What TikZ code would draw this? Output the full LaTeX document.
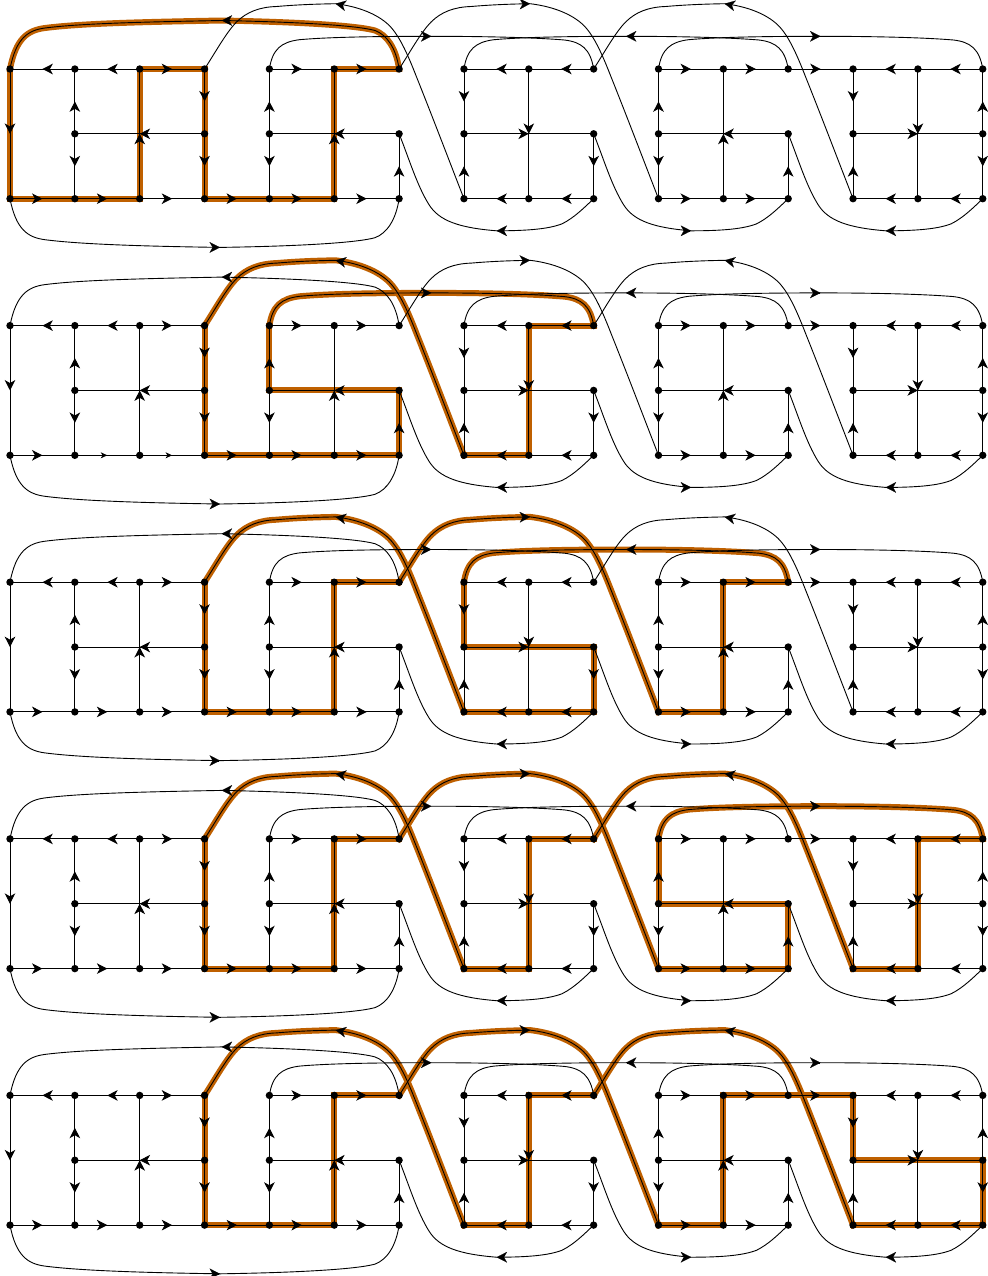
\documentclass[tikz,border=0pt]{standalone}
\usetikzlibrary{arrows.meta,decorations.markings}
\definecolor{hlcol}{HTML}{BF6000}
\pgfdeclarelayer{hllayer}\pgfdeclarelayer{edgelayer}
\pgfsetlayers{hllayer,edgelayer,main}
\tikzset{
  dot/.style={circle,fill=black,inner sep=0pt,minimum size=7.4bp},
  conn/.style={line width=.9bp,black},
  hl/.style={line width=6bp,hlcol,line cap=rect},
  tipst/.style={line width=.1bp,-{Stealth[length=10.4bp,width=10.6bp,inset=3bp]}},
  se/.style={conn,postaction={decorate},decoration={markings,mark=at position .5 with {\arrow{Stealth[length=10.4bp,width=10.6bp,inset=3bp]}}}},
  sesmall/.style={conn,postaction={decorate},decoration={markings,mark=at position .5 with {\arrow{Stealth[length=6.5bp,width=6bp,inset=1.8bp]}}}},
}
% arcs: coordinates relative to the shifted start of the arc
\newcommand\archtop[2]{(#1.center) .. controls (386,-21) and (377,-34) .. (365,-38.5) .. controls (347,-43.5) and (290,-47) .. (211.7,-48.5) coordinate (apex) .. controls (130,-47) and (70,-45.5) .. (35,-41) .. controls (18,-38.8) and (6,-31) .. (#2.center)}
\newcommand\archbot[2]{(#1.center) .. controls (6,31) and (18,38.8) .. (35,41) .. controls (70,45.5) and (130,47.5) .. (210,48.7) coordinate (apex) .. controls (290,47.5) and (347,44) .. (365,39) .. controls (377,34.5) and (386,21) .. (#2.center)}
\newcommand\tallarc[2]{(#1.center) .. controls (11,-17) and (22,-37) .. (32,-47) .. controls (42,-57) and (55,-62) .. (72,-62.5) .. controls (95,-64.5) and (115,-65) .. (131,-65.3) coordinate (apex) .. controls (150,-63) and (169,-57) .. (182,-46) .. controls (194,-36) and (203,-15) .. (212,8) .. controls (228,48) and (244,90) .. (#2.center)}
\newcommand\longarc[2]{(#1.center) .. controls (3,-20) and (12,-27) .. (30,-29.3) .. controls (60,-32) and (110,-32.7) .. (162,-32.7) coordinate (apex) .. controls (215,-32.7) and (265,-31.5) .. (295,-29) .. controls (312,-27) and (321,-20) .. (#2.center)}
\newcommand\lowarc[2]{(#1.center) .. controls (10,25) and (18,52) .. (30,71) .. controls (40,87) and (60,94) .. (97.5,97) coordinate (apex) .. controls (130,97) and (150,95) .. (163,90) .. controls (175,84) and (185,74) .. (#2.center)}
\newcommand\tipat[2]{\draw[tipst] (apex) ++(#1,#2) -- (apex);}
\newcommand\hlarc[3]{\draw[hl,shift={(#2.center)}] #1{#2}{#3};}
\begin{document}
\begin{tikzpicture}[x=1bp,y=-1bp]
\useasboundingbox (0,0) rectangle (988,1276);
\foreach \rw/\Y in {1/0,2/256.6,3/513.2,4/769.9,5/1026.4}{
  \foreach \c in {0,...,15}{
    \pgfmathsetmacro\X{10+64.85*\c}
    \node[dot] (r\rw c\c t) at (\X,69+\Y) {};
    \node[dot] (r\rw c\c b) at (\X,198.7+\Y) {};
  }
  \foreach \c in {1,3,4,6,7,9,10,12,13,15}{
    \pgfmathsetmacro\X{10+64.85*\c}
    \node[dot] (r\rw c\c m) at (\X,133.8+\Y) {};
  }
  \begin{pgfonlayer}{edgelayer}
  \foreach \a/\b in {1t/0t,2t/1t,2t/3t,4t/5t,5t/6t,8t/7t,9t/8t,10t/11t,11t/12t,12t/13t,14t/13t,15t/14t,
    0b/1b,3b/4b,4b/5b,5b/6b,8b/7b,9b/8b,10b/11b,11b/12b,14b/13b,15b/14b,
    0t/0b,1m/1t,1m/1b,2b/2t,3t/3m,3m/3b,4m/4t,4m/4b,5b/5t,6b/6m,7t/7m,7b/7m,8t/8b,9m/9b,
    10m/10t,10m/10b,11b/11t,12b/12m,13t/13m,13b/13m,14t/14b,15m/15t,15m/15b,
    3m/1m,6m/4m,7m/9m,12m/10m,13m/15m}{
    \draw[se] (r\rw c\a.center) -- (r\rw c\b.center);
  }
  \ifnum\rw=2 \def\smallst{sesmall}\else\def\smallst{se}\fi
  \draw[\smallst] (r\rw c1b.center) -- (r\rw c2b.center);
  \draw[\smallst] (r\rw c2b.center) -- (r\rw c3b.center);
  \draw[conn,shift={(r\rw c0t.center)}] \archtop{r\rw c6t}{r\rw c0t}; \tipat{1}{0}
  \draw[conn,shift={(r\rw c0b.center)}] \archbot{r\rw c0b}{r\rw c6b}; \tipat{-1}{0}
  \draw[conn,shift={(r\rw c3t.center)}] \tallarc{r\rw c3t}{r\rw c7b}; \tipat{1}{.2}
  \draw[conn,shift={(r\rw c6t.center)}] \tallarc{r\rw c6t}{r\rw c10b}; \tipat{-1}{.03}
  \draw[conn,shift={(r\rw c9t.center)}] \tallarc{r\rw c9t}{r\rw c13b}; \tipat{1}{.2}
  \draw[conn,shift={(r\rw c4t.center)}] \longarc{r\rw c4t}{r\rw c9t}; \tipat{-1}{0}
  \draw[conn,shift={(r\rw c7t.center)}] \longarc{r\rw c7t}{r\rw c12t}; \tipat{1}{0}
  \draw[conn,shift={(r\rw c10t.center)}] \longarc{r\rw c10t}{r\rw c15t}; \tipat{-1}{0}
  \draw[conn,shift={(r\rw c6m.center)}] \lowarc{r\rw c6m}{r\rw c9b}; \tipat{1}{0}
  \draw[conn,shift={(r\rw c9m.center)}] \lowarc{r\rw c9m}{r\rw c12b}; \tipat{-1}{0}
  \draw[conn,shift={(r\rw c12m.center)}] \lowarc{r\rw c12m}{r\rw c15b}; \tipat{1}{0}
  \end{pgfonlayer}
}
\begin{pgfonlayer}{hllayer}
% row 1
\foreach \a/\b in {0b/1b,1b/2b,2b/2t,2t/3t,3t/3m,3m/3b,3b/4b,4b/5b,5b/5t,5t/6t,0t/0b}{
  \draw[hl] (r1c\a.center) -- (r1c\b.center);}
\draw[hl,shift={(r1c0t.center)}] \archtop{r1c6t}{r1c0t};
% row 2
\foreach \a/\b in {3t/3m,3m/3b,3b/4b,4b/5b,5b/6b,6b/6m,6m/4m,4m/4t,9t/8t,8t/8b,8b/7b}{
  \draw[hl] (r2c\a.center) -- (r2c\b.center);}
\hlarc{\longarc}{r2c4t}{r2c9t}
\hlarc{\tallarc}{r2c3t}{r2c7b}
% row 3
\foreach \a/\b in {3t/3m,3m/3b,3b/4b,4b/5b,5b/5t,5t/6t,10b/11b,11b/11t,11t/12t,7t/7m,7m/9m,9m/9b,9b/8b,8b/7b}{
  \draw[hl] (r3c\a.center) -- (r3c\b.center);}
\hlarc{\tallarc}{r3c6t}{r3c10b}
\hlarc{\longarc}{r3c7t}{r3c12t}
\hlarc{\tallarc}{r3c3t}{r3c7b}
% row 4
\foreach \a/\b in {3t/3m,3m/3b,3b/4b,4b/5b,5b/5t,5t/6t,10b/11b,11b/12b,12b/12m,12m/10m,10m/10t,15t/14t,14t/14b,14b/13b,9t/8t,8t/8b,8b/7b}{
  \draw[hl] (r4c\a.center) -- (r4c\b.center);}
\hlarc{\tallarc}{r4c6t}{r4c10b}
\hlarc{\longarc}{r4c10t}{r4c15t}
\hlarc{\tallarc}{r4c9t}{r4c13b}
\hlarc{\tallarc}{r4c3t}{r4c7b}
% row 5
\foreach \a/\b in {3t/3m,3m/3b,3b/4b,4b/5b,5b/5t,5t/6t,10b/11b,11b/11t,11t/12t,12t/13t,13t/13m,13m/15m,15m/15b,15b/14b,14b/13b,9t/8t,8t/8b,8b/7b}{
  \draw[hl] (r5c\a.center) -- (r5c\b.center);}
\hlarc{\tallarc}{r5c6t}{r5c10b}
\hlarc{\tallarc}{r5c9t}{r5c13b}
\hlarc{\tallarc}{r5c3t}{r5c7b}
\end{pgfonlayer}
\end{tikzpicture}
\end{document}
